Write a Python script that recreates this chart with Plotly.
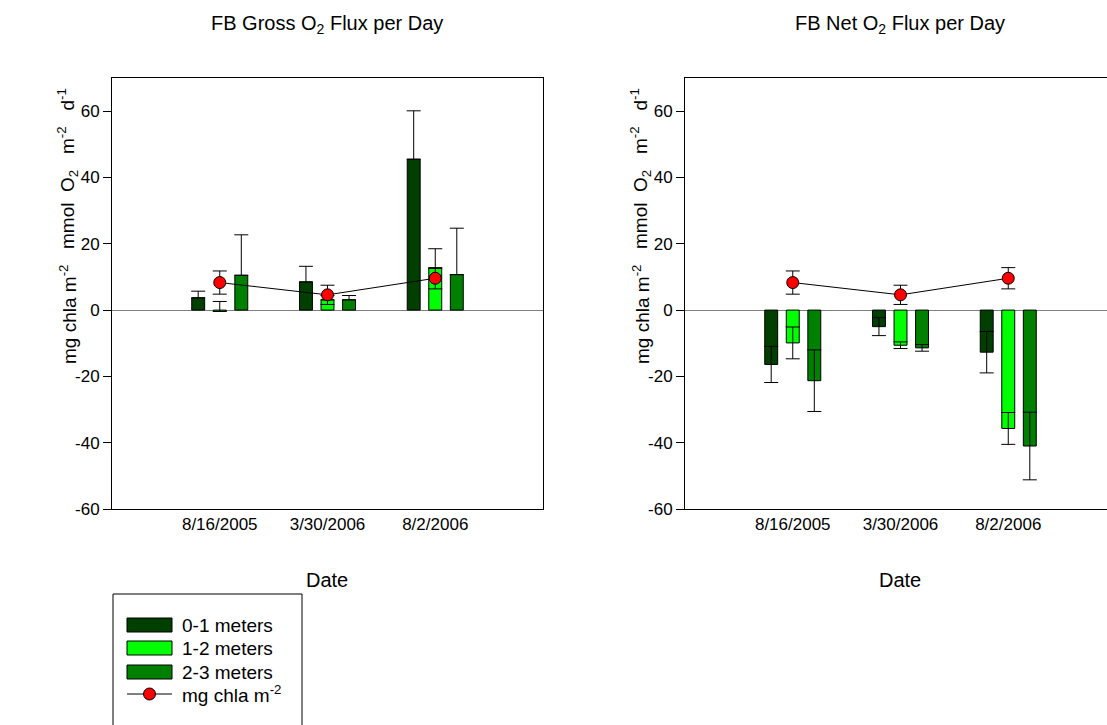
import plotly.graph_objects as go

W, H = 1107, 725

dates = ["8/16/2005", "3/30/2006", "8/2/2006"]
series_names = ["0-1 meters", "1-2 meters", "2-3 meters"]
series_colors = ["#003f00", "#00ff00", "#008000"]
chla_name = "mg chla m<sup>-2</sup>"

# Gross O2 flux (upward error bars only)
gross_vals = [[3.7, 8.5, 45.5], [-0.4, 3.1, 12.6], [10.5, 3.1, 10.7]]
gross_err = [[2.0, 4.7, 14.6], [3.0, 1.3, 5.9], [12.2, 1.3, 14.0]]

# Net O2 flux (symmetric error bars)
net_vals = [[-16.4, -5.0, -12.7], [-9.9, -10.6, -35.7], [-21.3, -11.4, -41.0]]
net_err = [[5.45, 2.7, 6.25], [4.8, 1.0, 4.8], [9.3, 1.0, 10.2]]

# chlorophyll a
chla_vals = [8.3, 4.6, 9.6]
chla_err = [3.5, 2.9, 3.2]

y_ticks = [-60, -40, -20, 0, 20, 40, 60]
y_tick_text = ["-60", "-40", "-20", "0", "20", "40", "60"]

FONT = "Liberation Sans, Arial, sans-serif"
NB = "\u00a0"


def px(x):
    return x / W


def py(y):
    return (H - y) / H


fig = go.Figure()

for i, name in enumerate(series_names):
    fig.add_trace(go.Bar(
        x=dates, y=gross_vals[i], name=name, marker_color=series_colors[i],
        marker_line=dict(color="black", width=1),
        error_y=dict(type="data", symmetric=False, array=gross_err[i],
                     arrayminus=[0, 0, 0], color="black", thickness=1, width=7),
        xaxis="x", yaxis="y", showlegend=False))
fig.add_trace(go.Scatter(
    x=dates, y=chla_vals, name=chla_name, mode="lines+markers",
    line=dict(color="black", width=1),
    marker=dict(color="red", size=12, line=dict(color="black", width=1)),
    error_y=dict(type="data", array=chla_err, color="black", thickness=1, width=7),
    xaxis="x", yaxis="y", showlegend=False))

for i, name in enumerate(series_names):
    fig.add_trace(go.Bar(
        x=dates, y=net_vals[i], name=name, marker_color=series_colors[i],
        marker_line=dict(color="black", width=1),
        error_y=dict(type="data", array=net_err[i], color="black", thickness=1, width=7),
        xaxis="x2", yaxis="y2", showlegend=False))
fig.add_trace(go.Scatter(
    x=dates, y=chla_vals, name=chla_name, mode="lines+markers",
    line=dict(color="black", width=1),
    marker=dict(color="red", size=12, line=dict(color="black", width=1)),
    error_y=dict(type="data", array=chla_err, color="black", thickness=1, width=7),
    xaxis="x2", yaxis="y2", showlegend=False))

ydom = [py(509), py(78)]
xcommon = dict(type="category", showline=True, linecolor="black", linewidth=1,
               mirror=True, ticks="", showgrid=False, zeroline=False, automargin=False,
               tickfont=dict(size=17, color="black", family=FONT))
ycommon = dict(range=[-60, 70], tickvals=y_ticks, ticktext=y_tick_text, showline=True,
               linecolor="black", linewidth=1, ticks="outside", ticklen=8, tickcolor="black",
               automargin=False, showgrid=False, zeroline=True, zerolinecolor="#808080",
               zerolinewidth=1, tickfont=dict(size=17, color="black", family=FONT))

fig.update_layout(
    width=W, height=H, autosize=False, margin=dict(l=0, r=0, t=0, b=0, pad=0),
    plot_bgcolor="white", paper_bgcolor="white",
    font=dict(family=FONT, color="black"),
    barmode="group", bargap=0.4, bargroupgap=0.4,
    xaxis=dict(domain=[px(112), px(543)], range=[-1, 3], anchor="y", **xcommon),
    yaxis=dict(domain=ydom, anchor="x", mirror=True, **ycommon),
    xaxis2=dict(domain=[px(685), 1.0], range=[-1, -1 + 422 / 107.75], anchor="y2", **xcommon),
    yaxis2=dict(domain=ydom, anchor="x2", mirror=False, **ycommon),
    showlegend=False,
)

mmol_text = ("mmol" + NB + " O<sub>2</sub>" + NB + NB + " m<sup>-2</sup>" + NB + NB
             + " d<sup>-1</sup>")

ann = []
for off, title in [(0, "FB Gross O<sub>2</sub> Flux per Day"), (573, "FB Net O<sub>2</sub> Flux per Day")]:
    ann.append(dict(text=title, x=px(327 + off), y=py(25), xref="paper", yref="paper",
                    xanchor="center", yanchor="middle",
                    showarrow=False, font=dict(size=20, family=FONT)))
    ann.append(dict(text="Date", x=px(327 + off), y=py(580), xref="paper", yref="paper",
                    xanchor="center", yanchor="middle",
                    showarrow=False, font=dict(size=20, family=FONT)))
    ann.append(dict(text="mg chla m<sup>-2</sup>", x=px(68 + off), y=py(315), xref="paper",
                    yref="paper", xanchor="center", yanchor="middle",
                    showarrow=False, textangle=-90, font=dict(size=19, family=FONT)))
    ann.append(dict(text=mmol_text, x=px(68 + off), y=py(169),
                    xref="paper", yref="paper", xanchor="center", yanchor="middle",
                    showarrow=False, textangle=-90,
                    font=dict(size=19, family=FONT)))

# legend (drawn as a key box)
shapes = [dict(type="rect", xref="paper", yref="paper", x0=px(113), x1=px(302),
               y0=py(740), y1=py(594), line=dict(color="black", width=1), fillcolor="white",
               layer="below")]
legend_rows = [625, 648, 672, 694]
for i, name in enumerate(series_names):
    yc = legend_rows[i]
    shapes.append(dict(type="rect", xref="paper", yref="paper", x0=px(127), x1=px(172),
                       y0=py(yc + 7), y1=py(yc - 7), fillcolor=series_colors[i],
                       line=dict(color="black", width=1)))
    ann.append(dict(text=name, x=px(180), y=py(yc), xref="paper", yref="paper",
                    xanchor="left", yanchor="middle", showarrow=False,
                    font=dict(size=19, family=FONT)))
yc = legend_rows[3]
shapes.append(dict(type="line", xref="paper", yref="paper", x0=px(127), x1=px(172),
                   y0=py(yc), y1=py(yc), line=dict(color="black", width=1)))
shapes.append(dict(type="circle", xref="paper", yref="paper", x0=px(143.5), x1=px(155.5),
                   y0=py(yc + 6), y1=py(yc - 6), fillcolor="red", line=dict(color="black", width=1)))
ann.append(dict(text=chla_name, x=px(180), y=py(yc), xref="paper", yref="paper",
                xanchor="left", yanchor="middle", showarrow=False,
                font=dict(size=19, family=FONT)))

fig.update_layout(annotations=ann, shapes=shapes)

fig.write_html("out.html", config={"responsive": False})
